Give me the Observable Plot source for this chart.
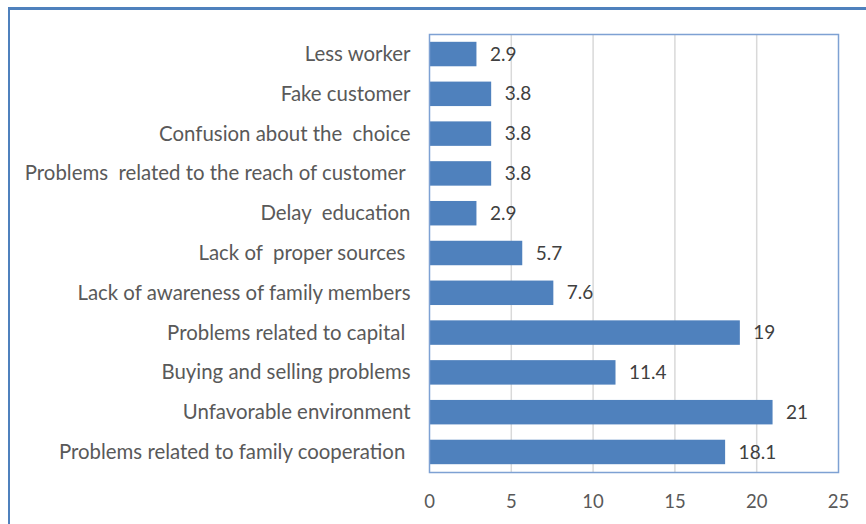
<!DOCTYPE html>
<html>
<head>
<meta charset="utf-8">
<script src="https://cdn.jsdelivr.net/npm/d3@7"></script>
<script src="https://cdn.jsdelivr.net/npm/@observablehq/plot@0.6"></script>
<style>
  html, body { margin: 0; padding: 0; background: #fff; width: 866px; height: 524px; overflow: hidden; }
  #wrap { position: relative; width: 866px; height: 524px; }
  #outer { position: absolute; left: 8px; top: 7px; width: 900px; height: 600px;
           border-top: 3px solid #4f81bd; border-left: 2px solid #4f81bd; box-sizing: border-box; }
  #chart { position: absolute; left: 0; top: 0; }
  #chart svg text { white-space: pre; }
</style>
</head>
<body>
<div id="wrap"><div id="outer"></div><div id="chart"></div></div>
<script>
const categories = [
  "Less worker",
  "Fake customer",
  "Confusion about the  choice",
  "Problems  related to the reach of customer ",
  "Delay  education",
  "Lack of  proper sources ",
  "Lack of awareness of family members",
  "Problems related to capital ",
  "Buying and selling problems",
  "Unfavorable environment",
  "Problems related to family cooperation "
];
const values = [2.9, 3.8, 3.8, 3.8, 2.9, 5.7, 7.6, 19, 11.4, 21, 18.1];
const valueLabels = ["2.9", "3.8", "3.8", "3.8", "2.9", "5.7", "7.6", "19", "11.4", "21", "18.1"];
const xTicks = [0, 5, 10, 15, 20, 25];

const data = categories.map((c, i) => ({category: c, value: values[i], label: valueLabels[i]}));

const chart = Plot.plot({
  width: 866,
  height: 524,
  marginLeft: 429,
  marginRight: 28,
  marginTop: 34,
  marginBottom: 52,
  style: {fontFamily: "Lato, 'Open Sans', sans-serif", fontSize: "18px", color: "#595959", background: "transparent"},
  x: {domain: [0, 25], ticks: xTicks, label: null},
  y: {domain: categories, label: null, paddingInner: 0.385, paddingOuter: 0.196, round: false},
  marks: [
    Plot.gridX(xTicks.filter(t => t > 0 && t < 25), {stroke: "#d9d9d9", strokeOpacity: 1, strokeWidth: 1.5}),
    Plot.barX(data, {x: "value", y: "category", fill: "#4f81bd"}),
    Plot.text(data, {x: "value", y: "category", text: "label", textAnchor: "start", dx: 13, fill: "#404040", fontSize: 19}),
    Plot.frame({stroke: "#7ea1d3", strokeWidth: 1.5}),
    Plot.axisX({ticks: xTicks, tickSize: 0, tickPadding: 22, fill: "#595959", fontSize: 18.5, label: null}),
    Plot.axisY({tickSize: 0, tickPadding: 19, fill: "#595959", fontSize: 20.4, label: null})
  ]
});
document.getElementById("chart").appendChild(chart);
</script>
</body>
</html>
